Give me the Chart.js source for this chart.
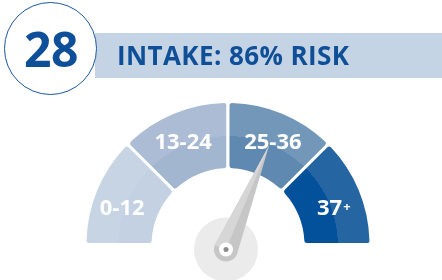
<!DOCTYPE html>
<html>
<head>
<meta charset="utf-8">
<script src="https://cdn.jsdelivr.net/npm/chart.js@4/dist/chart.umd.min.js"></script>
<style>
  body { margin: 0; background: #fff; }
  #wrap { position: relative; width: 442px; height: 280px; overflow: hidden; font-family: "Open Sans", sans-serif; }
  #band { position: absolute; left: 95px; top: 33px; width: 347px; height: 45px; background: #c5d4e4; }
  #ring { position: absolute; left: 4px; top: 2px; width: 91px; height: 91px; border: 1.5px solid #1b57a0; border-radius: 50%; background: #fff; }
  #score { position: absolute; left: 4px; width: 94px; top: 15.7px; line-height: 65.4px; font-size: 48px; font-weight: 700; color: #0d4f98; text-align: center; letter-spacing: -0.5px; }
  #risk { position: absolute; left: 117px; top: 37.5px; line-height: 35.4px; font-size: 26px; font-weight: 700; color: #0f4f98; white-space: nowrap; letter-spacing: 0.4px; }
  canvas { position: absolute; left: 0; top: 0; }
</style>
</head>
<body>
<div id="wrap">
  <canvas id="gauge" width="442" height="280"></canvas>
  <div id="band"></div>
  <div id="ring"></div>
  <div id="score"></div>
  <div id="risk"></div>
</div>
<script>
'use strict';

// data
var categories = ["0-12", "13-24", "25-36", "37+"];
var segmentSizes = [12, 12, 12, 12];
var needleValue = 30;
var score = "28";
var riskText = "INTAKE: 86% RISK";

// colours: outer band / inner band of each segment
var outerColors = ["#c7d4e3", "#abbcd4", "#7397b9", "#2465a2"];
var innerColors = ["#c3d1e2", "#a3b6d0", "#5f89b0", "#03519b"];

document.getElementById('score').textContent = score;
document.getElementById('risk').textContent = riskText;

var cutoutRatio = 0.524;
var splitAt = 0.48;

function segColor(c) {
  var a = c.chart.chartArea;
  if (!a) return innerColors[c.dataIndex];
  var cx = (a.left + a.right) / 2, cy = a.bottom;
  var r = Math.min(a.width / 2, a.height);
  var g = c.chart.ctx.createRadialGradient(cx, cy, r * cutoutRatio, cx, cy, r);
  g.addColorStop(0, innerColors[c.dataIndex]);
  g.addColorStop(splitAt, innerColors[c.dataIndex]);
  g.addColorStop(splitAt + 0.001, outerColors[c.dataIndex]);
  g.addColorStop(1, outerColors[c.dataIndex]);
  return g;
}

// labels on the segments
var labelPlugin = {
  id: 'segLabels',
  afterDatasetsDraw: function (chart) {
    var ctx = chart.ctx;
    var meta = chart.getDatasetMeta(0);
    ctx.save();
    ctx.fillStyle = '#ffffff';
    ctx.textBaseline = 'middle';
    meta.data.forEach(function (arc, i) {
      var mid = (arc.startAngle + arc.endAngle) / 2;
      // spread a little away from the top
      var ang = -Math.PI / 2 + (mid + Math.PI / 2) * 1.05;
      var r = 112;
      var x = arc.x + Math.cos(ang) * r;
      var y = arc.y + Math.sin(ang) * r;
      var txt = categories[i];
      var suffix = '';
      if (txt.slice(-1) === '+') { suffix = '+'; txt = txt.slice(0, -1); }
      ctx.font = 'bold 22px "Open Sans"';
      var w1 = ctx.measureText(txt).width;
      ctx.font = 'bold 13px "Open Sans"';
      var w2 = suffix ? ctx.measureText(suffix).width + 1 : 0;
      var x0 = x - (w1 + w2) / 2;
      ctx.textAlign = 'left';
      ctx.font = 'bold 22px "Open Sans"';
      ctx.fillText(txt, x0, y + 1);
      if (suffix) {
        ctx.font = 'bold 13px "Open Sans"';
        ctx.fillText(suffix, x0 + w1 + 1, y - 1);
      }
    });
    ctx.restore();
  }
};

// needle
var needlePlugin = {
  id: 'needle',
  afterDatasetsDraw: function (chart) {
    var ctx = chart.ctx;
    var arc = chart.getDatasetMeta(0).data[0];
    var total = segmentSizes.reduce(function (s, v) { return s + v; }, 0);
    var ang = Math.PI + needleValue / total * Math.PI;
    var px = arc.x - 2, py = arc.y + 5;
    var len = 113, hw = 12;
    var tx = px + Math.cos(ang) * len, ty = py + Math.sin(ang) * len;
    var nx = Math.cos(ang + Math.PI / 2), ny = Math.sin(ang + Math.PI / 2);
    ctx.save();
    // base disc
    ctx.fillStyle = '#ebebeb';
    ctx.beginPath();
    ctx.arc(px, py, 32, 0, Math.PI * 2);
    ctx.fill();
    // darker side
    ctx.fillStyle = '#c6c6c6';
    ctx.beginPath();
    ctx.moveTo(tx, ty);
    ctx.lineTo(px + nx * hw, py + ny * hw);
    ctx.arc(px, py, hw, ang + Math.PI / 2, ang + Math.PI * 1.5);
    ctx.closePath();
    ctx.fill();
    // lighter side
    ctx.fillStyle = '#d6d6d6';
    ctx.beginPath();
    ctx.moveTo(tx, ty);
    ctx.lineTo(px - nx * hw, py - ny * hw);
    ctx.lineTo(px, py);
    ctx.closePath();
    ctx.fill();
    // pivot
    ctx.fillStyle = '#ffffff';
    ctx.beginPath();
    ctx.arc(px, py, 7, 0, Math.PI * 2);
    ctx.fill();
    ctx.fillStyle = '#8c8c8c';
    ctx.beginPath();
    ctx.arc(px, py, 2.5, 0, Math.PI * 2);
    ctx.fill();
    ctx.restore();
  }
};

var ctx = document.getElementById('gauge');
var gauge = new Chart(ctx, {
  type: 'doughnut',
  data: {
    labels: categories,
    datasets: [{
      data: segmentSizes,
      backgroundColor: segColor,
      borderColor: '#ffffff',
      borderWidth: 3,
      borderRadius: 4
    }]
  },
  plugins: [labelPlugin, needlePlugin],
  options: {
    responsive: false,
    animation: false,
    rotation: -90,
    circumference: 180,
    cutout: (cutoutRatio * 100) + '%',
    layout: { padding: { left: 82, right: 68, top: 100, bottom: 34 } },
    plugins: {
      legend: { display: false },
      tooltip: { enabled: false }
    }
  }
});
</script>
</body>
</html>
